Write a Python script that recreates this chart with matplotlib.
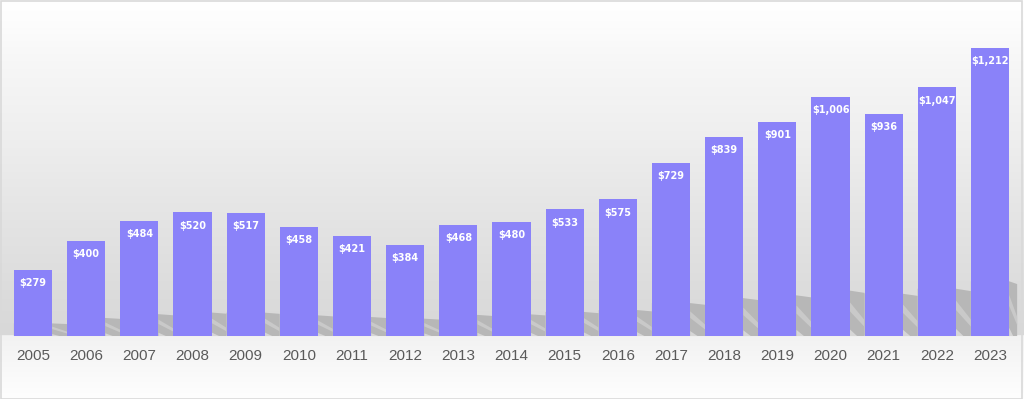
import matplotlib
matplotlib.use("Agg")
import matplotlib.pyplot as plt
import numpy as np
from matplotlib.colors import LinearSegmentedColormap
from matplotlib.patches import Polygon, Rectangle

years = [str(y) for y in range(2005, 2024)]
values = [279, 400, 484, 520, 517, 458, 421, 384, 468, 480, 533, 575,
          729, 839, 901, 1006, 936, 1047, 1212]

bar_color = "#8a82f9"
bar_width = 0.72

fig = plt.figure(figsize=(10.24, 3.99), dpi=100)

# background gradient (figure coordinates, top -> bottom)
bg = fig.add_axes([0, 0, 1, 1], zorder=0)
bg.set_axis_off()
stops = [(0.0, "#ffffff"), (0.05, "#fdfdfd"), (0.15, "#f7f7f7"),
         (0.35, "#eeeeee"), (0.55, "#e4e4e4"), (0.75, "#dbdbdb"),
         (0.842, "#d8d8d8"), (0.843, "#f2f2f2"), (1.0, "#fefefe")]
cmap = LinearSegmentedColormap.from_list("bg", stops)
grad = np.linspace(0, 1, 800).reshape(-1, 1)
bg.imshow(grad, aspect="auto", cmap=cmap, extent=[0, 1, 0, 1], origin="upper")
bg.set_xlim(0, 1)
bg.set_ylim(0, 1)
bg.add_patch(Rectangle((0.0005, 0.001), 0.998, 0.997, fill=False,
                       edgecolor="#d9d9d9", linewidth=1.2))

ax = fig.add_axes([0, 0, 1, 1], zorder=1)
ax.patch.set_alpha(0)
x = np.arange(len(values))

# soft shadow cast by each bar into the gap on its right
gap = 1 - bar_width
for i, (xi, v) in enumerate(zip(x, values)):
    s = 0.19 * v
    x0 = xi - bar_width / 2
    x1 = xi + bar_width / 2
    off = gap if i < len(values) - 1 else 0.15
    ax.add_patch(Polygon([(x0, 0), (x1 + off, 0), (x1 + off, s * 0.95),
                          (x1, s), (x0, s)], closed=True,
                         facecolor="#b7b7b7", edgecolor="none", zorder=1))
    # lighter diagonal streak across the shadow
    ax.add_patch(Polygon([(x1, s * 0.55), (x1 + off, s * 0.2),
                          (x1 + off, s * 0.35), (x1, s * 0.75)], closed=True,
                         facecolor="#c9c9c9", edgecolor="none", zorder=1))
    ax.add_patch(Polygon([(x1, 0), (x1 + off * 0.5, 0), (x1, s * 0.15)],
                         closed=True, facecolor="#d6d6d6", edgecolor="none",
                         zorder=1))

bars = ax.bar(x, values, width=bar_width, color=bar_color, zorder=2)

for xi, v in zip(x, values):
    ax.text(xi, v - 56, f"${v:,}", ha="center", va="center", color="white",
            fontsize=7, fontweight="bold", zorder=3)

for xi, yr in zip(x, years):
    ax.text(xi, -82, yr, ha="center", va="center", color="#5a5a5a",
            fontsize=11, family="Liberation Sans", zorder=3)

ax.set_xlim(-0.621, 18.639)
ax.set_ylim(-265, 1414)
ax.set_axis_off()

plt.savefig("out.png", dpi=100)
